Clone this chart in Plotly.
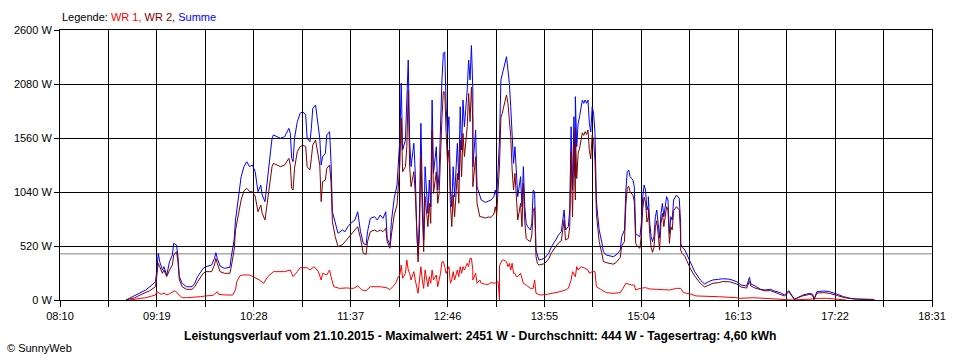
import plotly.graph_objects as go

DAY = "2015-10-21"

# ---- Summe (blue) and WR 2 (dark red) share one time base ----
t_sum = ["08:57","09:00","09:03","09:07","09:11","09:14","09:18","09:19","09:20","09:21",
         "09:23","09:24","09:26","09:28","09:30","09:31","09:33","09:34","09:35","09:37",
         "09:40","09:44","09:46","09:48","09:52","09:54","09:58","10:00","10:01","10:02",
         "10:04","10:07","10:11","10:12","10:14","10:15","10:17","10:19","10:21","10:23",
         "10:25","10:27","10:29","10:31","10:33","10:34","10:36","10:38","10:41","10:42",
         "10:47","10:50","10:53","10:54","10:55","10:56","10:57","10:59","11:01","11:03",
         "11:05","11:06","11:08","11:09","11:10","11:12","11:13","11:15","11:16","11:17",
         "11:19","11:20","11:22","11:23","11:24","11:26","11:28","11:31","11:33","11:35",
         "11:37","11:40","11:42","11:44","11:46","11:48","11:49","11:51","11:54","11:56",
         "11:58","12:00","12:02","12:03","12:05","12:06","12:08","12:10","12:11","12:12",
         "12:13","12:14","12:16","12:17","12:18","12:19","12:20","12:22","12:23","12:24",
         "12:25","12:26","12:27","12:28","12:29","12:30","12:32","12:33","12:34","12:35",
         "12:36","12:38","12:39","12:40","12:41","12:42","12:43","12:44","12:45","12:46",
         "12:47","12:48","12:49","12:50","12:51","12:53","12:54","12:55","12:56","12:57",
         "12:58","13:00","13:01","13:02","13:03","13:04","13:04","13:06","13:07","13:09",
         "13:10","13:13","13:15","13:17","13:19","13:20","13:21","13:23","13:24","13:25",
         "13:26","13:28","13:29","13:30","13:31","13:32","13:33","13:34","13:35","13:36",
         "13:38","13:39","13:40","13:41","13:42","13:43","13:45","13:46","13:47","13:48",
         "13:49","13:50","13:51","13:53","13:55","13:58","14:00","14:03","14:05","14:07",
         "14:09","14:10","14:12","14:13","14:14","14:15","14:16","14:17","14:17","14:18",
         "14:19","14:20","14:21","14:22","14:23","14:24","14:25","14:26","14:27","14:28",
         "14:29","14:30","14:31","14:32","14:33","14:34","14:36","14:37","14:39","14:42",
         "14:44","14:46","14:49","14:50","14:52","14:53","14:54","14:55","14:56","14:58",
         "14:59","15:00","15:01","15:03","15:04","15:05","15:06","15:07","15:08","15:09",
         "15:09","15:10","15:11","15:12","15:13","15:14","15:15","15:16","15:17","15:18",
         "15:19","15:20","15:21","15:22","15:23","15:24","15:25","15:26","15:27","15:28",
         "15:29","15:31","15:32","15:32","15:33","15:35","15:37","15:39","15:42","15:46",
         "15:49","15:52","15:55","15:59","16:02","16:07","16:12","16:15","16:19","16:21",
         "16:22","16:25","16:29","16:32","16:36","16:38","16:43","16:46","16:49","16:51",
         "16:53","16:56","16:59","17:04","17:06","17:07","17:09","17:14","17:18","17:23",
         "17:28","17:33","17:37","17:49","17:50"]

p_sum = [0,20,40,64,96,128,176,289,450,369,
         289,321,241,369,433,546,530,417,225,161,
         128,128,161,225,305,321,337,401,456,401,
         327,305,315,417,578,770,963,1187,1284,1332,
         1284,1300,1236,1043,1107,1011,947,1172,1557,1589,
         1557,1573,1653,1605,1364,1332,1557,1717,1798,1813,
         1781,1557,1524,1653,1846,1878,1750,1557,1300,1380,
         1412,1589,1621,1332,850,738,642,674,658,706,
         738,770,850,658,546,530,658,786,802,770,
         818,786,850,594,530,754,979,1107,1396,1541,
         2087,1444,1541,1861,2311,1541,1284,1509,1220,706,
         430,835,1701,1059,578,1284,835,1156,899,1926,
         1220,1476,1059,1220,1701,2119,2376,2390,1861,1605,
         1765,1091,899,1284,995,1509,1156,1861,1444,1926,
         1669,2022,2311,2119,2451,2022,1284,1637,1091,995,
         963,940,950,963,995,1059,995,1541,2119,2183,
         2247,2343,2215,2087,1861,1605,1316,1476,1188,995,
         1188,899,1284,899,738,706,674,738,1059,1043,
         481,417,385,393,400,449,514,578,626,658,
         867,674,706,867,1669,1059,1765,1188,1958,1476,
         1701,1765,1861,1926,1894,1926,1894,1926,1701,1620,
         1861,1800,1605,963,802,674,546,465,433,425,
         417,433,481,610,674,1059,1236,1252,1188,1155,
         1091,642,626,610,738,995,1107,1059,867,915,
         995,738,610,562,610,802,867,738,600,835,
         931,802,899,995,963,642,802,770,963,995,
         1011,979,738,546,514,481,417,353,273,193,
         154,177,193,199,205,200,176,144,135,218,
         154,135,103,96,103,90,71,48,90,48,
         6,26,48,64,55,6,80,87,80,58,
         32,16,10,6,0]

p_wr2 = [0,10,20,48,70,90,128,230,353,321,
         257,289,225,289,337,433,465,369,193,128,
         103,103,128,176,257,273,273,337,401,353,
         273,257,257,321,481,674,835,963,1050,1075,
         1043,1043,1000,850,915,835,770,1000,1284,1316,
         1284,1300,1364,1300,1075,1059,1268,1428,1476,1492,
         1476,1284,1252,1364,1492,1541,1444,1300,947,1139,
         1156,1268,1300,1139,754,610,514,530,562,594,
         626,674,706,594,449,440,562,658,674,658,
         674,658,690,562,498,626,818,915,1172,1300,
         1750,1235,1284,1476,2022,1284,1091,1236,1027,578,
         366,642,1380,867,466,995,706,931,738,1637,
         1027,1235,931,1027,1444,1750,2007,2000,1604,1316,
         1444,930,706,1011,802,1220,931,1540,1187,1605,
         1380,1669,1990,1718,2050,1733,1091,1380,930,802,
         802,789,799,796,828,898,818,1300,1760,1798,
         1862,1974,1894,1734,1572,1252,1059,1219,963,770,
         931,706,1123,755,594,578,562,626,866,890,
         417,353,337,345,350,395,455,513,550,570,
         771,578,594,706,1430,800,1510,963,1653,1170,
         1412,1460,1540,1610,1585,1621,1594,1637,1440,1360,
         1590,1540,1335,835,690,562,440,370,360,355,
         345,360,410,520,565,920,1080,1095,1040,1010,
         947,546,520,498,625,880,990,940,750,800,
         880,632,505,459,506,699,764,635,480,737,
         835,706,803,899,867,546,706,674,860,885,
         899,867,626,482,449,420,360,300,230,161,
         125,145,161,167,178,175,154,125,115,180,
         135,115,96,88,90,80,60,38,80,45,
         6,26,40,55,45,6,66,71,64,45,
         25,13,8,3,0]

# ---- WR 1 (red) ----
t_wr1 = ["09:00","09:03","09:07","09:11","09:14","09:18","09:19","09:20","09:22","09:24",
         "09:26","09:28","09:30","09:32","09:34","09:37","09:40","09:45","09:50","09:53",
         "09:59","10:02","10:03","10:08","10:13","10:15","10:16","10:18","10:20","10:25",
         "10:29","10:32","10:35","10:38","10:42","10:50","10:54","10:56","10:59","11:01",
         "11:06","11:08","11:11","11:14","11:16","11:17","11:20","11:22","11:23","11:25",
         "11:29","11:34","11:39","11:42","11:45","11:48","11:51","11:58","12:03","12:05",
         "12:07","12:09","12:11","12:12","12:13","12:14","12:16","12:17","12:18","12:19",
         "12:20","12:22","12:23","12:24","12:25","12:26","12:27","12:28","12:29","12:30",
         "12:32","12:33","12:34","12:35","12:36","12:38","12:39","12:40","12:41","12:42",
         "12:43","12:44","12:45","12:46","12:47","12:48","12:49","12:50","12:51","12:53",
         "12:54","12:55","12:56","12:57","12:58","13:00","13:01","13:02","13:03","13:04",
         "13:04","13:06","13:07","13:09","13:10","13:13","13:15","13:17","13:19","13:20",
         "13:21","13:22","13:23","13:23","13:24","13:25","13:26","13:28","13:29","13:30",
         "13:31","13:32","13:33","13:34","13:35","13:36","13:38","13:39","13:40","13:42",
         "13:45","13:47","13:48","13:49","13:52","13:57","14:01","14:06","14:10","14:12",
         "14:14","14:15","14:17","14:18","14:19","14:21","14:24","14:26","14:27","14:29",
         "14:31","14:32","14:35","14:39","14:44","14:49","14:51","14:53","14:57","14:59",
         "15:00","15:03","15:07","15:10","15:15","15:20","15:24","15:29","15:32","15:34",
         "15:39","15:43","15:51","15:59","16:12","16:14","16:24","16:42","16:45","16:52",
         "17:06","17:10","17:16","17:25","17:30"]

p_wr1 = [0,10,16,22,32,48,80,70,55,65,
         50,60,75,90,60,22,22,24,32,38,
         45,80,55,48,48,100,180,231,241,241,
         215,193,161,225,273,273,289,225,273,311,
         311,289,321,273,193,257,241,289,225,128,
         112,116,112,135,96,90,128,128,116,100,
         128,161,225,241,337,209,257,385,289,257,
         193,273,193,128,64,193,321,193,112,289,
         128,225,161,289,193,241,128,193,257,369,
         369,321,257,289,321,161,193,273,193,289,
         225,321,257,321,289,353,321,401,401,289,
         193,257,161,193,161,151,151,167,167,161,
         177,175,0,330,359,385,385,369,321,353,
         289,353,257,257,225,225,257,193,161,144,
         112,112,193,64,48,55,64,80,96,112,
         193,273,225,321,289,321,305,289,257,273,
         273,128,103,71,64,71,112,161,144,144,
         96,112,119,106,103,96,96,112,112,71,
         58,39,32,32,22,16,22,10,6,0,
         10,16,16,10,0]

# ---- summary values (from the caption) ----
average_w = 444
max_w = 2451
energy_kwh = "4,60"
y_ticks = [0, 520, 1040, 1560, 2080, 2600]

def ts(lst):
    return [f"{DAY} {t}" for t in lst]

FONT = "Liberation Sans, Arial, sans-serif"

fig = go.Figure()
fig.add_trace(go.Scatter(x=ts(t_wr1), y=p_wr1, mode="lines", name="WR 1",
                         line=dict(color="#FF0000", width=1)))
fig.add_trace(go.Scatter(x=ts(t_sum), y=p_sum, mode="lines", name="Summe",
                         line=dict(color="#0000FF", width=1)))
fig.add_trace(go.Scatter(x=ts(t_sum), y=p_wr2, mode="lines", name="WR 2",
                         line=dict(color="#800000", width=1)))

fig.add_shape(type="line", xref="paper", x0=0, x1=1, yref="y", y0=average_w, y1=average_w,
              line=dict(color="#808080", width=1), layer="between")

fig.update_layout(
    width=960, height=360,
    margin=dict(l=60, r=28, t=30, b=60),
    paper_bgcolor="white", plot_bgcolor="white",
    showlegend=False,
    font=dict(family=FONT, size=11, color="black"),
    xaxis=dict(
        type="date",
        range=[f"{DAY} 08:10", f"{DAY} 18:31"],
        tickmode="linear", tick0=f"{DAY} 08:10", dtick=69 * 60 * 1000,
        tickformat="%H:%M",
        showgrid=True, gridcolor="black", gridwidth=1,
        ticks="outside", ticklen=6, tickcolor="black",
        showline=True, linecolor="black", linewidth=1, mirror=True,
        minor=dict(tickmode="linear", tick0=f"{DAY} 08:10", dtick=int(34.5 * 60 * 1000),
                   ticks="outside", ticklen=6, tickcolor="black",
                   showgrid=True, gridcolor="black", gridwidth=1),
        tickfont=dict(family=FONT, size=11, color="black"),
        zeroline=False,
    ),
    yaxis=dict(
        range=[0, 2600],
        tickmode="array", tickvals=y_ticks, ticktext=[f"{v} W" for v in y_ticks],
        showgrid=True, gridcolor="black", gridwidth=1,
        ticks="outside", ticklen=5, tickcolor="black",
        showline=True, linecolor="black", linewidth=1, mirror=True,
        tickfont=dict(family=FONT, size=11, color="black"),
        zeroline=False,
    ),
)

fig.add_annotation(
    xref="paper", yref="paper", x=0, y=1 + 13 / 270, xanchor="left", yanchor="middle",
    showarrow=False, font=dict(family=FONT, size=11, color="black"),
    text='Legende: <span style="color:#FF0000">WR 1,</span> '
         '<span style="color:#800000">WR 2,</span> '
         '<span style="color:#0000FF">Summe</span>')

fig.add_annotation(
    xref="paper", yref="paper", x=(480 - 60) / 872, y=-36 / 270, xanchor="center", yanchor="middle",
    showarrow=False, font=dict(family=FONT, size=12.2, color="black"),
    text=f"<b>Leistungsverlauf vom 21.10.2015 - Maximalwert: {max_w} W - "
         f"Durchschnitt: {average_w} W - Tagesertrag: {energy_kwh} kWh</b>")

fig.add_annotation(
    xref="paper", yref="paper", x=-55 / 872, y=-48 / 270, xanchor="left", yanchor="middle",
    showarrow=False, font=dict(family=FONT, size=11, color="black"),
    text="© SunnyWeb")

fig.write_html("out.html", config={"displayModeBar": False},
               post_script="document.body.style.margin='0';document.body.style.overflow='hidden';")
